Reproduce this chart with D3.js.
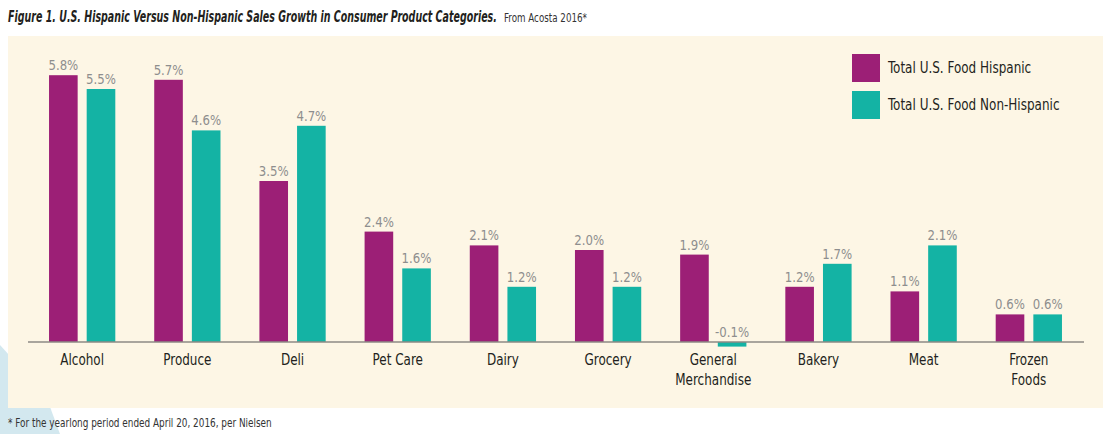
<!DOCTYPE html>
<html>
<head>
<meta charset="utf-8">
<script src="https://cdn.jsdelivr.net/npm/d3@7"></script>
<style>
  body { margin: 0; background: #fff; }
  svg text { font-family: "DejaVu Sans Condensed", "Liberation Sans Narrow", "Roboto", sans-serif; }
</style>
</head>
<body>
<svg id="chart" width="1120" height="434"></svg>
<script>
// chart data
const categories = [
  ['Alcohol'], ['Produce'], ['Deli'], ['Pet Care'], ['Dairy'],
  ['Grocery'], ['General', 'Merchandise'], ['Bakery'], ['Meat'], ['Frozen', 'Foods']
];
const seriesNames = ['Total U.S. Food Hispanic', 'Total U.S. Food Non-Hispanic'];
const hispanic = [5.8, 5.7, 3.5, 2.4, 2.1, 2.0, 1.9, 1.2, 1.1, 0.6];
const nonHispanic = [5.5, 4.6, 4.7, 1.6, 1.2, 1.2, -0.1, 1.7, 2.1, 0.6];
const colors = ['#9c1f76', '#14b3a4'];

const svg = d3.select('#chart');

// squeeze text horizontally, the original uses a narrow face
function condense(sel, factor) {
  sel.each(function () {
    const w = this.getComputedTextLength();
    d3.select(this)
      .attr('textLength', w * factor)
      .attr('lengthAdjust', 'spacingAndGlyphs');
  });
}

// squeeze a whole text element to a target width with a transform
function fitWidth(sel, x, y, target) {
  sel.each(function () {
    const w = this.getComputedTextLength();
    d3.select(this).attr('transform', `translate(${x},${y}) scale(${target / w},1)`);
  });
}

// decorative pale shape, bottom left
svg.append('path')
  .attr('d', 'M0,345 L46,396 L60,434 L0,434 Z')
  .attr('fill', '#d3e8ef');

// cream panel
svg.append('rect')
  .attr('x', 8).attr('y', 36)
  .attr('width', 1095).attr('height', 372)
  .attr('fill', '#fdf6e5');

// title
const title = svg.append('text')
  .attr('font-weight', 'bold')
  .attr('font-style', 'italic')
  .attr('font-size', '16px')
  .attr('fill', '#231f20')
  .text('Figure 1. U.S. Hispanic Versus Non-Hispanic Sales Growth in Consumer Product Categories.');
fitWidth(title, 8, 22, 489);

const source = svg.append('text')
  .attr('font-size', '12px')
  .attr('fill', '#333')
  .text('From Acosta 2016*');
fitWidth(source, 504, 22, 83);

// footnote
const note = svg.append('text')
  .attr('font-size', '12px')
  .attr('fill', '#333')
  .text('* For the yearlong period ended April 20, 2016, per Nielsen');
fitWidth(note, 8, 427, 264);

// scales
const x0 = d3.scaleBand()
  .domain(d3.range(categories.length))
  .range([28, 1083])
  .paddingInner(0.37)
  .paddingOuter(0.2);

const x1 = d3.scaleBand()
  .domain([0, 1])
  .range([0, x0.bandwidth()])
  .paddingInner(0.24);

const y = d3.scaleLinear()
  .domain([0, 6])
  .range([342, 66]);

const rows = categories.map((c, i) => ({ i, vals: [hispanic[i], nonHispanic[i]] }));

const groups = svg.selectAll('.group')
  .data(rows)
  .enter()
  .append('g')
  .attr('class', 'group')
  .attr('transform', d => `translate(${x0(d.i)},0)`);

// bars
groups.selectAll('rect')
  .data(d => d.vals.map((v, s) => ({ v, s })))
  .enter()
  .append('rect')
  .attr('x', d => x1(d.s))
  .attr('y', d => y(Math.max(0, d.v)))
  .attr('width', x1.bandwidth())
  .attr('height', d => Math.abs(y(d.v) - y(0)))
  .attr('fill', d => colors[d.s]);

// value labels
const values = groups.selectAll('.value')
  .data(d => d.vals.map((v, s) => ({ v, s })))
  .enter()
  .append('text')
  .attr('class', 'value')
  .attr('x', d => x1(d.s) + x1.bandwidth() / 2)
  .attr('y', d => y(Math.max(0, d.v)) - 5)
  .attr('text-anchor', 'middle')
  .attr('font-size', '14.5px')
  .attr('fill', '#8e8e8e')
  .text(d => d.v.toFixed(1) + '%');
condense(values, 0.9);

// baseline
svg.append('line')
  .attr('x1', 28).attr('x2', 1084)
  .attr('y1', y(0)).attr('y2', y(0))
  .attr('stroke', '#8d8a84')
  .attr('stroke-width', 1.5);

// category labels
const catLabels = svg.selectAll('.cat')
  .data(categories)
  .enter()
  .append('text')
  .attr('class', 'cat')
  .attr('x', (d, i) => x0(i) + x0.bandwidth() / 2)
  .attr('y', 365)
  .attr('text-anchor', 'middle')
  .attr('font-size', '15.5px')
  .attr('fill', '#231f20');

const catLines = catLabels.selectAll('tspan')
  .data(d => d)
  .enter()
  .append('tspan')
  .attr('x', function () { return d3.select(this.parentNode).attr('x'); })
  .attr('dy', (d, j) => j === 0 ? 0 : 20)
  .text(d => d);
condense(catLines, 0.86);

// legend
const legend = svg.selectAll('.legend')
  .data(seriesNames)
  .enter()
  .append('g')
  .attr('class', 'legend')
  .attr('transform', (d, i) => `translate(852,${54 + i * 37})`);

legend.append('rect')
  .attr('width', 28).attr('height', 28)
  .attr('fill', (d, i) => colors[i]);

const legendText = legend.append('text')
  .attr('x', 36).attr('y', 19)
  .attr('font-size', '15px')
  .attr('fill', '#231f20')
  .text(d => d);
condense(legendText, 0.89);
</script>
</body>
</html>
